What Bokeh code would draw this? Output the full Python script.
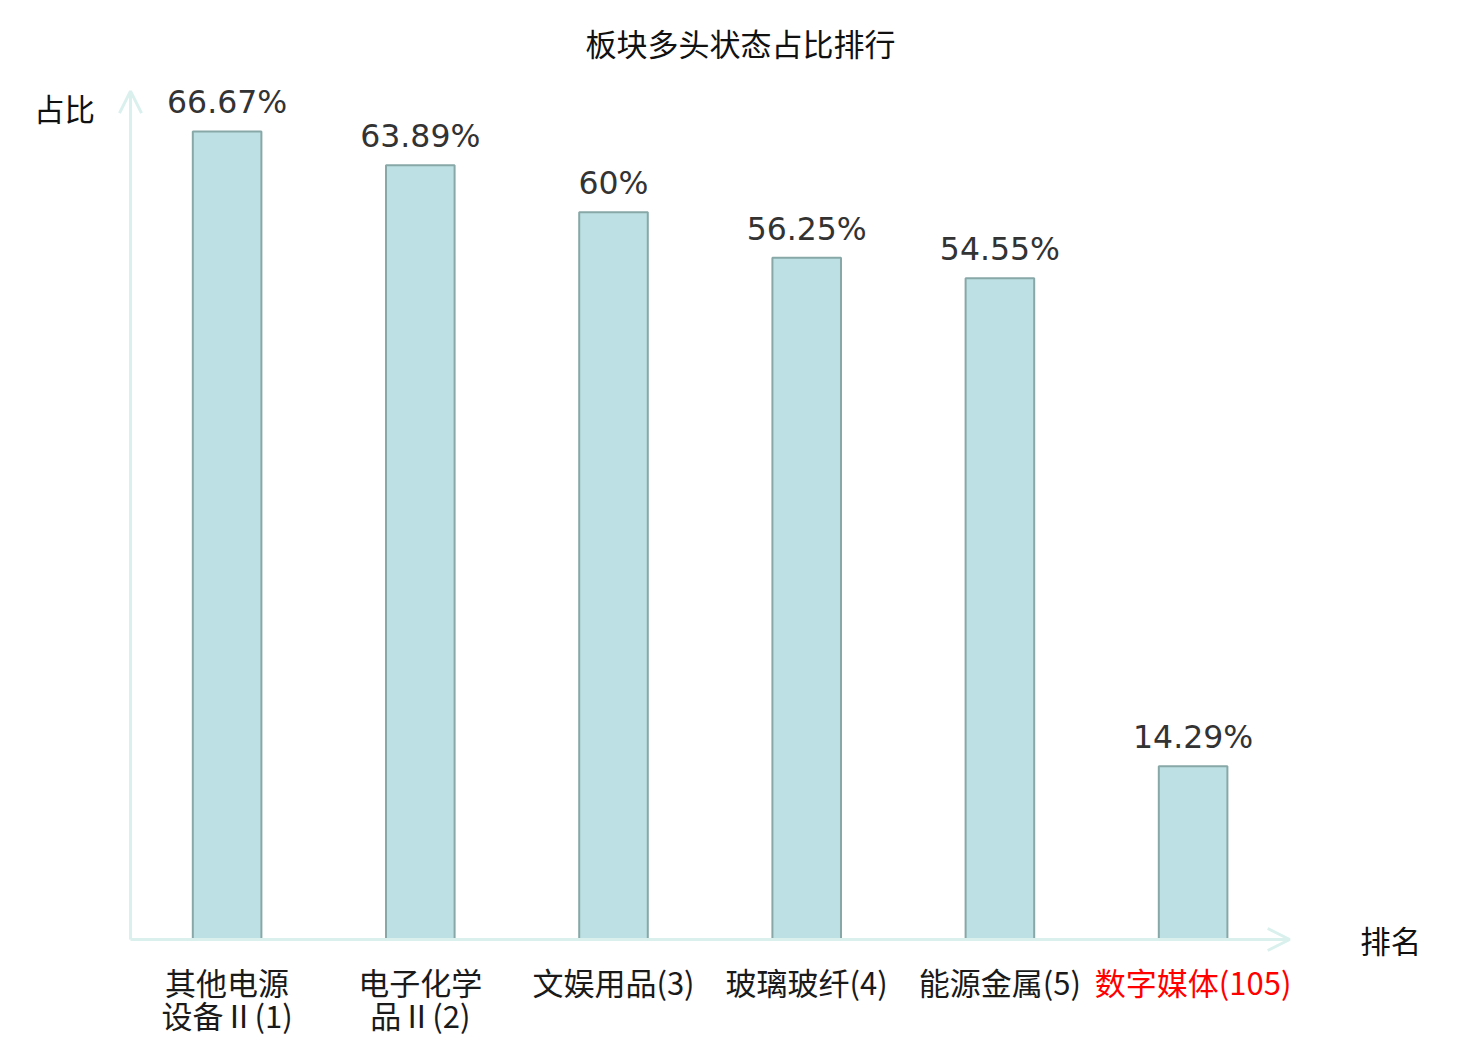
from bokeh.plotting import figure
from bokeh.models import Range1d, ColumnDataSource, Arrow, OpenHead, Label
from bokeh.embed import file_html
from bokeh.resources import INLINE
from bokeh.core.properties import value

# ---- data ----
categories = ["其他电源\n设备Ⅱ(1)", "电子化学\n品Ⅱ(2)", "文娱用品(3)", "玻璃玻纤(4)", "能源金属(5)", "数字媒体(105)"]
shares = [66.67, 63.89, 60.0, 56.25, 54.55, 14.29]
share_labels = ["66.67%", "63.89%", "60%", "56.25%", "54.55%", "14.29%"]
label_colors = ["#1a1a1a", "#1a1a1a", "#1a1a1a", "#1a1a1a", "#1a1a1a", "#ff0000"]
title_text = "板块多头状态占比排行"
y_name = "占比"
x_name = "排名"
y_max = 70

W, H = 1480, 1040
# pixel geometry (canvas coords)
x0_px, band_px = 130.0, 193.2
y0_px, unit_px = 939.0, 12.12

n = len(categories)
xr = Range1d(-x0_px / band_px, (W - x0_px) / band_px)
yr = Range1d(-(H - y0_px) / unit_px, y0_px / unit_px)

p = figure(width=W, height=H, x_range=xr, y_range=yr, output_backend="svg",
           toolbar_location=None, x_axis_location=None, y_axis_location=None,
           min_border=0, tools="")
p.outline_line_color = None
p.grid.visible = False
p.background_fill_color = "white"

centers = [i + 0.5 for i in range(n)]
line1 = [c.split("\n")[0] for c in categories]
line2 = [c.split("\n")[1] if "\n" in c else "" for c in categories]
src = ColumnDataSource(dict(x=centers, top=shares, lab=share_labels, l1=line1, l2=line2,
                            col=label_colors, zero=[0] * n))

p.vbar(x="x", top="top", bottom=0, width=0.355, source=src,
       fill_color="#bce0e3", line_color="#88a8a8", line_width=2)

p.text(x="x", y="top", text="lab", source=src, text_align="center",
       text_baseline="alphabetic", y_offset=-29, text_color="#333333",
       text_font=value("DejaVu Sans"), text_font_size="31.5px")

for txt, off in (("l1", 19), ("l2", 52)):
    p.text(x="x", y="zero", text=txt, source=src, text_align="center",
           text_baseline="top", y_offset=off, text_color="col",
           text_font=value("Noto Sans CJK SC"), text_font_size="31px")

axis_col = "#d9f0ed"
p.add_layout(Arrow(x_start=0, y_start=0, x_end=0, y_end=y_max, line_color=axis_col,
                   line_width=3, end=OpenHead(size=22, line_color=axis_col, line_width=3)))
p.add_layout(Arrow(x_start=0, y_start=0, x_end=n, y_end=0, line_color=axis_col,
                   line_width=3, end=OpenHead(size=22, line_color=axis_col, line_width=3)))

p.add_layout(Label(x=(xr.start + xr.end) / 2, y=yr.end, y_offset=-19, text=title_text,
                   text_align="center", text_baseline="top", text_color="#111111",
                   text_font="Noto Sans CJK SC", text_font_size="31px"))
p.add_layout(Label(x=0, y=y_max, x_offset=-66, y_offset=-17, text=y_name,
                   text_align="center", text_baseline="middle", text_color="#111111",
                   text_font="Noto Sans CJK SC", text_font_size="30.5px"))
p.add_layout(Label(x=n, y=0, x_offset=101, y_offset=0, text=x_name,
                   text_align="center", text_baseline="middle", text_color="#111111",
                   text_font="Noto Sans CJK SC", text_font_size="30.5px"))

open("out.html", "w").write(file_html(p, INLINE))
